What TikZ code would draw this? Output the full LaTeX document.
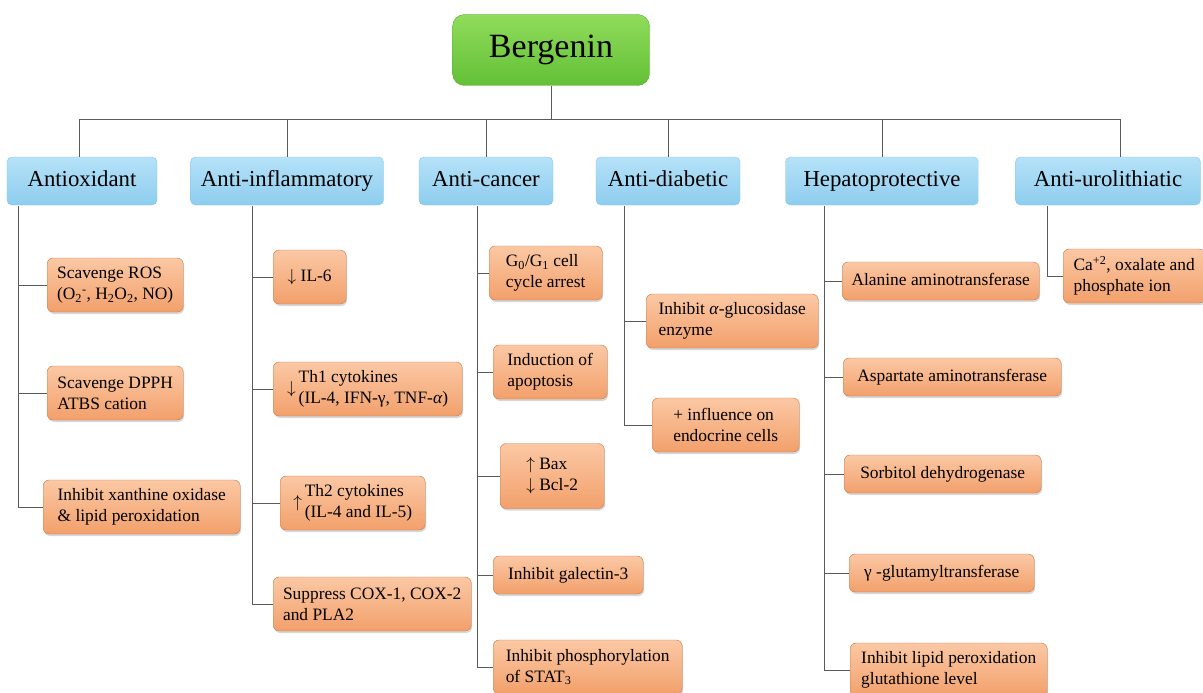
\documentclass[tikz,border=0pt]{standalone}
\usepackage{fontspec}
\setmainfont{Liberation Serif}
\usetikzlibrary{shadows}

\definecolor{leaftop}{HTML}{FBC8A4}
\definecolor{leafbot}{HTML}{F2A06B}
\definecolor{leafrim}{HTML}{C97B48}
\definecolor{cattop}{HTML}{B5E2F8}
\definecolor{catbot}{HTML}{8ECDEF}
\definecolor{catrim}{HTML}{86C6EA}
\definecolor{roottop}{HTML}{90DC5C}
\definecolor{rootbot}{HTML}{63C036}
\definecolor{rootrim}{HTML}{58AC2E}
\definecolor{wire}{HTML}{5A5A5A}

\tikzset{
  rootbox/.style={draw=rootrim,top color=roottop,bottom color=rootbot,rounded corners=12pt,
    minimum width=197pt,minimum height=71pt,font=\fontsize{34}{40}\selectfont},
  catbox/.style={draw=catrim,top color=cattop,bottom color=catbot,rounded corners=5pt,
    minimum height=48pt,inner xsep=4pt,text height=16pt,text depth=5pt,
    font=\fontsize{22.8}{26}\selectfont},
  leafbox/.style={draw=leafrim,top color=leaftop,bottom color=leafbot,rounded corners=6pt,
    anchor=west,align=left,inner xsep=4pt,minimum height=54pt,
    font=\fontsize{17.4}{21}\selectfont,
    drop shadow={shadow xshift=1pt,shadow yshift=-2pt,opacity=.3}},
  oneline/.style={minimum height=38pt,text height=12pt,text depth=4pt},
  wire/.style={draw=wire,line width=1pt}
}

\begin{document}
\begin{tikzpicture}[x=1pt,y=-1pt]
  \path[fill=white,use as bounding box] (0,0) rectangle (1203,693);

  \node[rootbox] (berg) at (551,50) {Bergenin};

  % categories
  \node[catbox,minimum width=150] (ao) at (82,181) {Antioxidant};
  \node[catbox,minimum width=193] (ai) at (287,181) {Anti-inflammatory};
  \node[catbox,minimum width=134] (ac) at (486,181) {Anti-cancer};
  \node[catbox,minimum width=144] (ad) at (668,181) {Anti-diabetic};
  \node[catbox,minimum width=193] (hp) at (882,181) {Hepatoprotective};
  \node[catbox,minimum width=185] (au) at (1108,181) {Anti-urolithiatic};

  \coordinate (busL) at (79,119);
  \coordinate (busR) at (1120,119);
  \draw[wire] (busL) -- (busR);
  \draw[wire] (berg.south) -- (berg.south |- busL);
  \draw[wire] (busL) -- (busL |- ao.north);
  \draw[wire] (busR) -- (busR |- au.north);
  \foreach \c in {ai,ac,ad,hp}
    \draw[wire] (\c.north) -- (\c.north |- busL);

  % antioxidant
  \node[leafbox,minimum width=136] (ros) at (47,285)
    {Scavenge ROS\\(O\textsubscript{2}\textsuperscript{-}, H\textsubscript{2}O\textsubscript{2}, NO)};
  \node[leafbox,minimum width=136] (dpph) at (47,393) {Scavenge DPPH\\ATBS cation};
  \node[leafbox,minimum width=197] (xan) at (43,507) {Inhibit xanthine oxidase\\\& lipid peroxidation};

  % anti-inflammatory
  \node[leafbox,minimum width=73] (il6) at (273,277) {$\downarrow$ IL-6};
  \node[leafbox,minimum width=189] (th1) at (273,389)
    {$\downarrow$\,\begin{tabular}{@{}l@{}}Th1 cytokines\\(IL-4, IFN-γ, TNF-\textit{α})\end{tabular}};
  \node[leafbox,minimum width=145] (th2) at (280,503)
    {$\uparrow$\,\begin{tabular}{@{}l@{}}Th2 cytokines\\(IL-4 and IL-5)\end{tabular}};
  \node[leafbox,minimum width=198] (cox) at (273,604) {Suppress COX-1, COX-2\\and PLA2};

  % anti-cancer
  \node[leafbox,minimum width=113] (g0) at (489,273) {G\textsubscript{0}/G\textsubscript{1} cell\\cycle arrest};
  \node[leafbox,minimum width=114] (apo) at (493,372) {Induction of\\apoptosis};
  \node[leafbox,minimum width=104,minimum height=65] (bax) at (500,476) {$\uparrow$ Bax\\$\downarrow$ Bcl-2};
  \node[leafbox,oneline,minimum width=150] (gal) at (493,575) {Inhibit galectin-3};
  \node[leafbox,minimum width=189] (stat) at (493,667) {Inhibit phosphorylation\\of STAT\textsubscript{3}};

  % anti-diabetic
  \node[leafbox,minimum width=172] (glu) at (646,321) {Inhibit \textit{α}-glucosidase\\enzyme};
  \node[leafbox,minimum width=147] (endo) at (652,425) {+ influence on\\endocrine cells};

  % hepatoprotective
  \node[leafbox,oneline,minimum width=197] (alt) at (842,281) {Alanine aminotransferase};
  \node[leafbox,oneline,minimum width=218] (ast) at (843,377) {Aspartate aminotransferase};
  \node[leafbox,oneline,minimum width=197] (sdh) at (844,474) {Sorbitol dehydrogenase};
  \node[leafbox,oneline,minimum width=185] (ggt) at (849,573) {γ -glutamyltransferase};
  \node[leafbox,minimum width=197] (lpo) at (850,670) {Inhibit lipid peroxidation\\glutathione level};

  % anti-urolithiatic
  \node[leafbox,minimum width=142] (ca) at (1063,276) {Ca\textsuperscript{+2}, oxalate and\\phosphate ion};

  % spines
  \coordinate (aoS) at (18,206);
  \coordinate (aiS) at (252,206);
  \coordinate (acS) at (477,206);
  \coordinate (adS) at (624,206);
  \coordinate (hpS) at (824,206);
  \coordinate (auS) at (1047,206);
  \foreach \l in {ros,dpph,xan} \draw[wire] (aoS) |- (\l.west);
  \foreach \l in {il6,th1,th2,cox} \draw[wire] (aiS) |- (\l.west);
  \foreach \l in {g0,apo,bax,gal,stat} \draw[wire] (acS) |- (\l.west);
  \foreach \l in {glu,endo} \draw[wire] (adS) |- (\l.west);
  \foreach \l in {alt,ast,sdh,ggt,lpo} \draw[wire] (hpS) |- (\l.west);
  \draw[wire] (auS) |- (ca.west);
\end{tikzpicture}
\end{document}
